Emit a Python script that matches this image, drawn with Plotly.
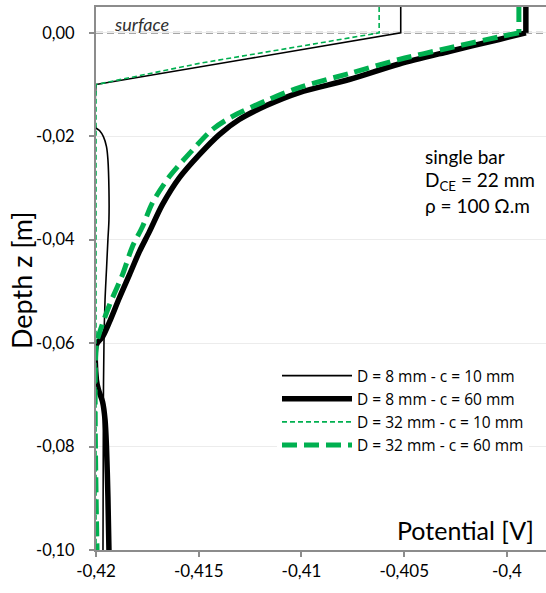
import plotly.graph_objects as go

# ---- data (potential [V], depth z [m]) ----
names = ["D = 8 mm - c = 10 mm", "D = 8 mm - c = 60 mm",
         "D = 32 mm - c = 10 mm", "D = 32 mm - c = 60 mm"]

# D = 8 mm, c = 10 mm
v_8_10 = [-0.40517, -0.40517, -0.41254, -0.42, -0.42, -0.41983, -0.41964, -0.41949,
          -0.41942, -0.41937, -0.41937, -0.41942, -0.41949, -0.41956, -0.41961,
          -0.41964, -0.41966]
z_8_10 = [0.005, 0.0, -0.00496, -0.0100, -0.01831, -0.01889, -0.02005, -0.02199,
          -0.02451, -0.03031, -0.03612, -0.03999, -0.04580, -0.05161, -0.05936,
          -0.07097, -0.1000]

# D = 8 mm, c = 60 mm
v_8_60 = [-0.39908, -0.39908, -0.40039, -0.40282, -0.40525, -0.40768, -0.41011,
          -0.41171, -0.41303, -0.41400, -0.41497, -0.41594, -0.41677, -0.41740,
          -0.41789, -0.41837, -0.41886, -0.41934, -0.41968, -0.41998, -0.41998,
          -0.41988, -0.41968, -0.41956, -0.41949, -0.41942, -0.41937]
z_8_60 = [0.005, 0.0, -0.00128, -0.00360, -0.00602, -0.00902, -0.01154, -0.01405,
          -0.01676, -0.01967, -0.02354, -0.02799, -0.03322, -0.03844, -0.04231,
          -0.04676, -0.05122, -0.05586, -0.05877, -0.06032, -0.06709, -0.06903,
          -0.07135, -0.07483, -0.08006, -0.08974, -0.1000]

# D = 32 mm, c = 10 mm
v_32_10 = [-0.40622, -0.40622, -0.41497, -0.42, -0.42]
z_32_10 = [0.005, 0.0, -0.0059, -0.0100, -0.1000]

# D = 32 mm, c = 60 mm
v_32_60 = [-0.39942, -0.39942, -0.40039, -0.40282, -0.40525, -0.40768, -0.41011,
           -0.41171, -0.41337, -0.41434, -0.41546, -0.41643, -0.41725, -0.41774,
           -0.41823, -0.41871, -0.41934, -0.41983, -0.41998, -0.41995]
z_32_60 = [0.005, 0.0, -0.00079, -0.00292, -0.00515, -0.00786, -0.01057, -0.01309,
           -0.01618, -0.01870, -0.02335, -0.02780, -0.03283, -0.03748, -0.04135,
           -0.04676, -0.05257, -0.05800, -0.06032, -0.1000]

x_ticks = [-0.42, -0.415, -0.41, -0.405, -0.4]
x_tick_labels = ["-0,42", "-0,415", "-0,41", "-0,405", "-0,4"]
y_ticks = [-0.10, -0.08, -0.06, -0.04, -0.02, 0.0]
y_tick_labels = ["-0,10", "-0,08", "-0,06", "-0,04", "-0,02", "0,00"]

GREEN = "#00B050"
AXIS = "#8c8c8c"
FONT = "Lato"

series = [
    # (name, x, z, line style, index where the straight part ends)
    (names[0], v_8_10, z_8_10, dict(color="black", width=1.6), 3),
    (names[1], v_8_60, z_8_60, dict(color="black", width=5.5), 1),
    (names[2], v_32_10, z_32_10, dict(color=GREEN, width=1.6, dash="5px,3px"), None),
    (names[3], v_32_60, z_32_60, dict(color=GREEN, width=5, dash="15px,7px"), 1),
]

fig = go.Figure()
for i, (nm, xs, zs, ln, k) in enumerate(series):
    grp = f"g{i}"
    if k is None:
        fig.add_trace(go.Scatter(x=xs, y=zs, mode="lines", name=nm, legendgroup=grp,
                                 line=ln))
        continue
    # straight part (surface drop)
    fig.add_trace(go.Scatter(x=xs[:k + 1], y=zs[:k + 1], mode="lines", name=nm,
                             legendgroup=grp, showlegend=True, line=ln))
    # smooth part
    fig.add_trace(go.Scatter(x=xs[k:], y=zs[k:], mode="lines", name=nm,
                             legendgroup=grp, showlegend=False,
                             line=dict(ln, shape="spline", smoothing=0.85)))

# surface reference line
fig.add_shape(type="line", xref="paper", yref="y", x0=0, x1=1, y0=0, y1=0,
              line=dict(color="#8a8a8a", width=2, dash="7px,4px"), layer="below")

L, W, T, H = 96, 450, 7, 543
def xp(px):
    return (px - L) / W
def yp(py):
    return (T + H - py) / H

fig.add_annotation(text="<i>surface</i>", x=xp(141), y=yp(24), xref="paper", yref="paper",
                   xanchor="center", yanchor="middle",
                   showarrow=False, font=dict(family=FONT, size=18, color="#303030"))
fig.add_annotation(text="Potential [V]", x=xp(465), y=yp(530), xref="paper", yref="paper",
                   xanchor="center", yanchor="middle",
                   showarrow=False, font=dict(family=FONT, size=25, color="black"))
fig.add_annotation(text="Depth z [m]", x=xp(22), y=yp(280), xref="paper", yref="paper",
                   xanchor="center", yanchor="middle",
                   textangle=-90, showarrow=False, font=dict(family=FONT, size=27, color="black"))
for txt, py in [("single bar", 157), ("D<sub>CE</sub> = 22 mm", 181), ("ρ = 100 Ω.m", 206)]:
    fig.add_annotation(text=txt, x=xp(423), y=yp(py), xref="paper", yref="paper",
                       xanchor="left", yanchor="middle", showarrow=False,
                       font=dict(family=FONT, size=19, color="black"))

fig.update_layout(
    width=546, height=593,
    margin=dict(l=L, r=0, t=T, b=593 - T - H, pad=0),
    paper_bgcolor="white", plot_bgcolor="white",
    font=dict(family=FONT, size=16, color="black"),
    showlegend=True,
    legend=dict(x=xp(277), y=yp(359), xanchor="left", yanchor="top",
                bgcolor="white", font=dict(family="Open Sans", size=15.5, color="black"),
                itemwidth=70, tracegroupgap=0),
    xaxis=dict(range=[-0.42, -0.3981], tickvals=x_ticks, ticktext=x_tick_labels,
               showgrid=False, zeroline=False, showline=True, linecolor=AXIS, linewidth=2,
               mirror=True, ticks="outside", ticklen=5, tickcolor=AXIS, tickwidth=1.5,
               tickfont=dict(family=FONT, size=17, color="black")),
    yaxis=dict(range=[-0.1, 0.005], tickvals=y_ticks, ticktext=y_tick_labels,
               showgrid=True, gridcolor="#ececec", gridwidth=1, zeroline=False,
               showline=True, linecolor=AXIS, linewidth=2,
               ticks="outside", ticklen=5, tickcolor=AXIS, tickwidth=1.5,
               ticklabelstandoff=11,
               tickfont=dict(family=FONT, size=16.5, color="black")),
)

fig.write_html("out.html")
